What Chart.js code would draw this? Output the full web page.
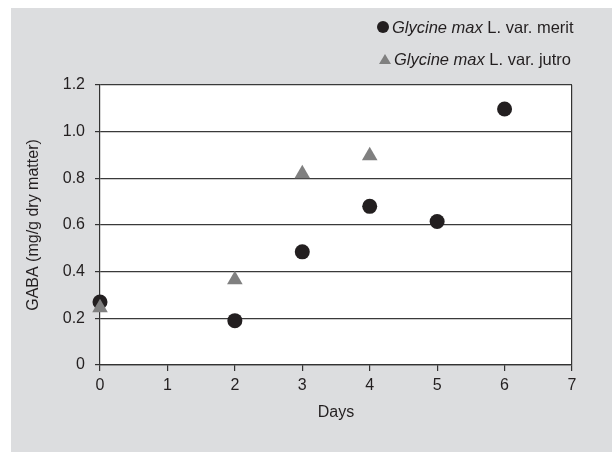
<!DOCTYPE html>
<html>
<head>
<meta charset="utf-8">
<script src="https://cdn.jsdelivr.net/npm/chart.js@4"></script>
<style>
  body { margin: 0; background: #fff; font-family: 'Liberation Sans', Arial, sans-serif; }
  #panel { position: absolute; left: 11px; top: 8px; width: 601px; height: 444px; background: #dcdddf; }
  #panel canvas { position: absolute; left: 0; top: 0; }
  .leg { position: absolute; font-size: 16.5px; line-height: 20px; color: #231f20; white-space: nowrap; }
  .leg i { font-style: italic; }
  .dot { position: absolute; width: 12px; height: 12px; border-radius: 50%; background: #231f20; }
  .tri { position: absolute; width: 0; height: 0; border-left: 6px solid transparent; border-right: 6px solid transparent; border-bottom: 10px solid #808080; }
</style>
</head>
<body>
<div id="panel">
  <canvas id="gabaChart" width="601" height="444"></canvas>
</div>
<span class="dot" style="left:377px; top:21px;"></span>
<div class="leg" style="left:392px; top:17px;"><i>Glycine max</i> L. var. merit</div>
<span class="tri" style="left:379px; top:54px;"></span>
<div class="leg" style="left:394px; top:49px;"><i>Glycine max</i> L. var. jutro</div>
<script>
// data
var days = [0, 2, 3, 4, 5, 6];
var merit = [0.27, 0.19, 0.485, 0.68, 0.615, 1.097];
var jutroDays = [0, 2, 3, 4];
var jutro = [0.245, 0.365, 0.82, 0.897];
var yTickLabels = ['0', '0.2', '0.4', '0.6', '0.8', '1.0', '1.2'];
var xTickLabels = ['0', '1', '2', '3', '4', '5', '6', '7'];

Chart.defaults.font.family = "'Liberation Sans', Arial, sans-serif";
Chart.defaults.font.size = 16;
Chart.defaults.color = '#231f20';

// white plot area on the grey panel
var plotBg = {
    id: 'plotBg',
    beforeDraw: function (chart) {
        var a = chart.chartArea;
        chart.ctx.save();
        chart.ctx.fillStyle = '#ffffff';
        chart.ctx.fillRect(a.left, a.top, a.right - a.left, a.bottom - a.top);
        chart.ctx.restore();
    }
};

var ctx = document.getElementById('gabaChart');
var myChart = new Chart(ctx, {
    type: 'scatter',
    data: {
        datasets: [{
            label: 'Glycine max L. var. merit',
            data: days.map(function (d, i) { return { x: d, y: merit[i] }; }),
            pointStyle: 'circle',
            pointRadius: 7.5,
            backgroundColor: '#231f20',
            borderColor: '#231f20',
            borderWidth: 0,
            clip: false,
            order: 1
        }, {
            label: 'Glycine max L. var. jutro',
            data: jutroDays.map(function (d, i) { return { x: d, y: jutro[i] }; }),
            pointStyle: 'triangle',
            pointRadius: 9,
            backgroundColor: '#808080',
            borderColor: '#808080',
            borderWidth: 0,
            clip: false,
            order: 0
        }]
    },
    options: {
        responsive: false,
        animation: false,
        layout: { padding: { left: 0, top: 77, right: 40, bottom: 0 } },
        plugins: {
            legend: { display: false },
            tooltip: { enabled: false }
        },
        scales: {
            x: {
                type: 'linear',
                min: 0,
                max: 7,
                afterFit: function (scale) { scale.height = 87; },
                ticks: {
                    stepSize: 1,
                    padding: 5,
                    callback: function (v, i) { return xTickLabels[i]; }
                },
                grid: {
                    color: function (c) { return c.index === 7 ? '#333' : 'rgba(0,0,0,0)'; },
                    tickColor: '#333',
                    tickLength: 6,
                    lineWidth: 1.2
                },
                border: { color: '#333', width: 1.2 },
                title: { display: true, text: 'Days', padding: { top: 0, bottom: 30 } }
            },
            y: {
                min: 0,
                max: 1.2,
                afterFit: function (scale) { scale.width = 89; },
                ticks: {
                    stepSize: 0.2,
                    padding: 10,
                    callback: function (v, i) { return yTickLabels[i]; }
                },
                grid: {
                    color: '#3a3a3a',
                    tickColor: '#333',
                    tickLength: 5,
                    lineWidth: 1.2
                },
                border: { color: '#333', width: 1.2 },
                title: { display: true, text: 'GABA (mg/g dry matter)', padding: { top: 13, bottom: 0 } }
            }
        }
    },
    plugins: [plotBg]
});
</script>
</body>
</html>
